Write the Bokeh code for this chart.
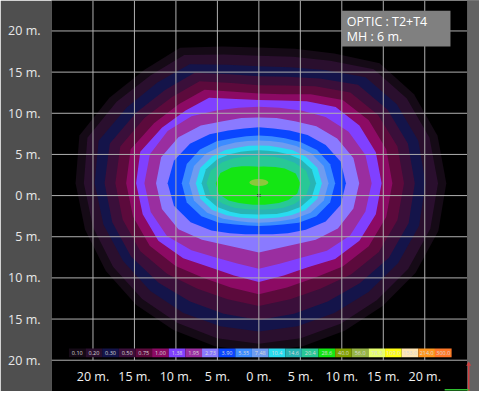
import numpy as np
from bokeh.plotting import figure
from bokeh.models import Range1d, FixedTicker, BoxAnnotation, Label
from bokeh.core.properties import value
from bokeh.embed import file_html
from bokeh.resources import INLINE

# ---------------- data ----------------
tick_vals = [-20, -15, -10, -5, 0, 5, 10, 15, 20]
x_tick_labels = ["20 m.", "15 m.", "10 m.", "5 m.", "0 m.", "5 m.", "10 m.", "15 m.", "20 m."]
y_tick_labels = ["20 m.", "15 m.", "10 m.", "5 m.", "0 m.", "5 m.", "10 m.", "15 m.", "20 m."]

legend_values = ["0.10", "0.20", "0.30", "0.50", "0.75", "1.00", "1.38", "1.95", "2.73",
                 "3.90", "5.35", "7.48", "10.4", "14.6", "20.4", "28.6", "40.0", "56.0",
                 "78.3", "109.0", "153.0", "214.0", "300.0"]
legend_colors = ["#150a16", "#2a0f2e", "#14144a", "#3a0f3a", "#5c0a3c", "#8c0a64", "#8040ff",
                 "#9a2ea0", "#8a7aff", "#0a46ff", "#3c8cff", "#6e9cf0", "#28dcf0", "#28b4b4",
                 "#28c896", "#14e614", "#82a000", "#96b446", "#e6ff6e", "#ffff14", "#ffe6b4",
                 "#ff961e", "#ff7828"]

# isolux contours: radius (m) every 15 degrees around the centre
angles_deg = [0, 15, 30, 45, 60, 75, 90, 105, 120, 135, 150, 165,
              180, 195, 210, 225, 240, 255, 270, 285, 300, 315, 330, 345]
center_x = 0.0
center_y = 1.5

r_010 = [22.6, 22.3, 21.6, 20.6, 18.2, 16.9, 16.5, 17.2, 19.0, 19.5, 20.8, 22.4, 22.1, 21.7, 21.3, 20.9, 20.6, 20.5, 20.5, 20.5, 20.7, 21.1, 21.8, 22.4]
r_020 = [21.6, 21.3, 20.6, 19.6, 17.2, 15.9, 15.5, 16.2, 18.0, 18.5, 19.8, 21.4, 21.1, 20.7, 20.3, 19.9, 19.6, 19.5, 19.5, 19.5, 19.7, 20.1, 20.8, 21.4]
r_030 = [20.1, 19.9, 19.2, 18.2, 15.9, 14.6, 14.2, 14.9, 16.7, 17.3, 18.4, 20.0, 19.8, 19.4, 18.9, 18.5, 18.2, 18.0, 18.0, 18.0, 18.2, 18.7, 19.4, 20.0]
r_050 = [18.8, 18.6, 17.9, 16.9, 14.7, 13.4, 13.0, 13.7, 15.5, 16.0, 17.1, 18.6, 18.6, 18.3, 17.8, 17.1, 16.6, 16.4, 16.6, 16.4, 16.6, 17.2, 18.1, 18.7]
r_075 = [17.5, 17.3, 16.6, 15.6, 13.6, 12.3, 11.9, 12.6, 14.3, 14.8, 15.9, 17.3, 17.3, 17.0, 16.5, 15.6, 14.8, 14.6, 14.9, 14.6, 14.8, 15.7, 16.7, 17.3]
r_100 = [16.1, 15.9, 15.3, 14.3, 12.5, 11.2, 10.9, 11.5, 13.1, 13.6, 14.6, 16.0, 16.0, 15.7, 15.2, 14.2, 13.3, 13.1, 13.5, 13.1, 13.3, 14.3, 15.3, 15.9]
r_138 = [14.8, 14.6, 14.0, 13.1, 11.5, 10.4, 10.1, 10.6, 12.0, 12.5, 13.5, 14.8, 14.8, 14.5, 14.0, 12.9, 11.8, 11.6, 12.0, 11.6, 11.8, 13.0, 14.0, 14.6]
r_195 = [13.6, 13.3, 12.5, 11.4, 10.2, 9.5, 9.3, 9.5, 10.2, 11.5, 12.7, 13.6, 13.8, 13.5, 12.8, 11.5, 10.4, 10.1, 10.4, 10.1, 10.4, 11.6, 12.7, 13.3]
r_273 = [12.1, 11.8, 10.9, 9.8, 8.7, 8.2, 8.0, 8.2, 8.7, 9.9, 11.2, 12.2, 12.4, 12.1, 11.2, 9.7, 8.6, 8.2, 8.4, 8.2, 8.6, 9.7, 11.0, 11.8]
r_390 = [10.5, 10.2, 9.3, 8.3, 7.4, 6.9, 6.8, 6.9, 7.4, 8.4, 9.6, 10.6, 11.0, 10.6, 9.5, 8.1, 7.0, 6.4, 6.2, 6.4, 7.0, 8.0, 9.3, 10.2]
r_535 = [9.2, 8.9, 8.1, 7.1, 6.3, 5.9, 5.8, 5.9, 6.3, 7.2, 8.2, 9.0, 9.3, 9.0, 8.0, 6.8, 5.8, 5.3, 5.2, 5.3, 5.8, 6.8, 8.0, 8.9]
r_748 = [8.4, 8.1, 7.3, 6.4, 5.7, 5.3, 5.2, 5.3, 5.7, 6.4, 7.3, 8.1, 8.4, 8.1, 7.2, 6.1, 5.3, 4.9, 4.8, 4.9, 5.3, 6.1, 7.2, 8.1]
r_104 = [7.6, 7.3, 6.5, 5.7, 5.0, 4.7, 4.6, 4.7, 5.0, 5.7, 6.5, 7.3, 7.6, 7.3, 6.5, 5.5, 4.8, 4.4, 4.3, 4.4, 4.8, 5.5, 6.5, 7.3]
r_146 = [6.9, 6.6, 5.8, 5.0, 4.4, 4.1, 4.0, 4.1, 4.4, 5.0, 5.8, 6.6, 6.9, 6.6, 5.8, 4.9, 4.3, 3.9, 3.8, 3.9, 4.3, 4.9, 5.8, 6.6]
r_204 = [6.2, 5.9, 5.0, 4.2, 3.7, 3.4, 3.3, 3.4, 3.7, 4.3, 5.1, 6.0, 6.3, 6.0, 5.0, 4.2, 3.6, 3.3, 3.2, 3.3, 3.6, 4.2, 5.0, 5.9]
r_286 = [5.0, 4.6, 3.6, 2.8, 2.3, 2.1, 2.0, 2.1, 2.4, 2.9, 3.8, 4.8, 5.2, 5.0, 4.2, 3.4, 2.9, 2.7, 2.6, 2.7, 2.9, 3.4, 4.1, 4.8]

contour_levels = ["0.10", "0.20", "0.30", "0.50", "0.75", "1.00", "1.38", "1.95",
                  "2.73", "3.90", "5.35", "7.48", "10.4", "14.6", "20.4", "28.6"]
contour_radii = [r_010, r_020, r_030, r_050, r_075, r_100, r_138, r_195,
                 r_273, r_390, r_535, r_748, r_104, r_146, r_204, r_286]

# peak spot (40.0 level)
spot_x = [0.0]
spot_y = [1.6]
spot_w = [2.3]
spot_h = [0.85]

# luminaire position
lum_x = [0.0]
lum_y = [0.0]

# ---------------- figure ----------------
X0, X1, XS = -25.0, 25.1, 26.6
Y0, Y1 = -23.8, 23.7

p = figure(width=479, height=391, x_range=Range1d(X0, XS), y_range=Range1d(Y0, Y1),
           output_backend="svg", toolbar_location=None, x_axis_location=None,
           min_border_left=51, min_border_right=0, min_border_top=0, min_border_bottom=0)
p.background_fill_color = "black"
p.border_fill_color = "#4f4f4f"
p.outline_line_color = None
p.xgrid.visible = False
p.ygrid.visible = False

ax = p.yaxis[0]
ax.ticker = FixedTicker(ticks=tick_vals)
ax.major_label_overrides = {t: lab for t, lab in zip(tick_vals, y_tick_labels)}
ax.axis_line_color = None
ax.major_tick_line_color = None
ax.minor_tick_line_color = None
ax.major_label_text_color = "#e8e8e8"
ax.major_label_text_font = "Open Sans"
ax.major_label_text_font_size = "12.5px"
ax.major_label_standoff = 5

level_color = dict(zip(legend_values, legend_colors))

# filled contours, outer to inner
th = np.radians(np.array(angles_deg, dtype=float))
for lev, radii in zip(contour_levels, contour_radii):
    r = np.array(radii)
    p.patch(list(center_x + r * np.cos(th)), list(center_y + r * np.sin(th)),
            fill_color=level_color[lev], line_color=None)

p.ellipse(x=spot_x, y=spot_y, width=spot_w, height=spot_h, fill_color="#8cc83c", line_color=None)
p.rect(x=lum_x, y=lum_y, width=0.45, height=0.25, fill_color="black", line_color=None)

# grid lines (drawn above contours)
p.segment(x0=tick_vals, y0=[-20] * 9, x1=tick_vals, y1=[Y1] * 9, line_color="#b0b0b0", line_width=1)
p.segment(x0=[X0] * 9, y0=tick_vals, x1=[X1] * 9, y1=tick_vals, line_color="#b0b0b0", line_width=1)

# x tick labels (inside the black area)
p.text(x=tick_vals, y=[-21.96] * 9, text=x_tick_labels, text_align="center", text_baseline="middle",
       text_color="#f0f0f0", text_font=value("Open Sans"), text_font_size="12.5px")

# legend bar
n = len(legend_values)
cell_w = 2.006
lx = [-22.9 + cell_w * (i + 0.5) for i in range(n)]
p.rect(x=lx, y=[-19.1] * n, width=cell_w, height=1.05, fill_color=legend_colors, line_color=None)
p.text(x=lx, y=[-19.1] * n, text=legend_values, text_align="center", text_baseline="middle",
       text_color="#d8d8d8", text_font=value("Open Sans"), text_font_size="5.5px")

# right grey strip with orientation marks
p.quad(left=[X1], right=[XS], bottom=[Y0], top=[Y1], fill_color="#626262", line_color=None)
p.segment(x0=[25.3], y0=[-20.6], x1=[25.3], y1=[Y0], line_color="#d04040", line_width=1.5)
p.triangle(x=[25.3], y=[-20.5], size=5, fill_color="#d04040", line_color=None)
p.segment(x0=[22.4], y0=[-23.6], x1=[25.3], y1=[-23.6], line_color="#30c030", line_width=1.5)

# info box
box = BoxAnnotation(left=10.0, right=23.1, top=22.45, bottom=18.1, fill_color="#808080",
                    fill_alpha=1.0, line_color=None)
p.add_layout(box)
p.add_layout(Label(x=10.6, y=21.18, text="OPTIC : T2+T4", text_color="white", text_baseline="middle",
                   text_font="Open Sans", text_font_size="12.5px"))
p.add_layout(Label(x=10.6, y=19.36, text="MH : 6 m.", text_color="white", text_baseline="middle",
                   text_font="Open Sans", text_font_size="12.5px"))

open("out.html", "w").write(file_html(p, INLINE))
